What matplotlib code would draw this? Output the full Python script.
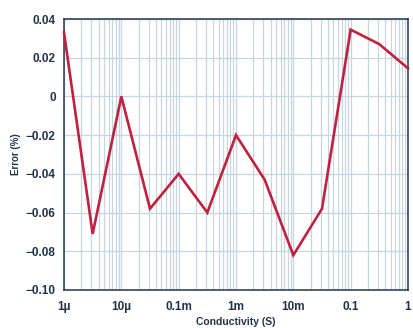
import matplotlib.pyplot as plt
import numpy as np
from matplotlib.ticker import FixedLocator, LogLocator, NullFormatter

plt.rcParams['font.family'] = ['Liberation Sans', 'DejaVu Sans']

# Conductivity sweep (S) and measured error (%)
conductivity = [1e-6, 3.16e-6, 1e-5, 3.16e-5, 1e-4, 3.16e-4, 1e-3,
                3.16e-3, 1e-2, 3.16e-2, 1e-1, 3.16e-1, 1.0]
error_pct = [0.033, -0.071, 0.0, -0.058, -0.040, -0.060, -0.020,
             -0.043, -0.082, -0.058, 0.0345, 0.027, 0.0145]

x_ticks = [1e-6, 1e-5, 1e-4, 1e-3, 1e-2, 1e-1, 1.0]
x_labels = ['1µ', '10µ', '0.1m', '1m', '10m', '0.1', '1']
y_ticks = [-0.10, -0.08, -0.06, -0.04, -0.02, 0, 0.02, 0.04]
y_labels = ['−0.10', '−0.08', '−0.06', '−0.04', '−0.02', '0', '0.02', '0.04']

navy = '#22344a'
grid_col = '#c6d5e0'

fig = plt.figure(figsize=(4.14, 3.28), dpi=100)
ax = fig.add_axes([64 / 414, 38 / 328, 344 / 414, 271 / 328])

ax.plot(conductivity, error_pct, color='#c0213f', linewidth=1.9,
        solid_joinstyle='miter', zorder=3, clip_on=False)

ax.set_xscale('log')
ax.set_xlim(1e-6, 1.0)
ax.set_ylim(-0.10, 0.04)

ax.xaxis.set_major_locator(FixedLocator(x_ticks))
ax.set_xticklabels(x_labels)
ax.xaxis.set_minor_locator(LogLocator(base=10, subs=np.arange(2, 10)))
ax.xaxis.set_minor_formatter(NullFormatter())
ax.set_yticks(y_ticks)
ax.set_yticklabels(y_labels)

ax.grid(True, which='both', axis='x', color=grid_col, linewidth=0.9)
ax.grid(True, which='major', axis='y', color=grid_col, linewidth=0.9)
ax.set_axisbelow(True)

ax.tick_params(which='both', length=0, colors=navy, labelsize=8.5)
ax.tick_params(axis='x', pad=8)
ax.tick_params(axis='y', pad=6)
for lab in ax.get_xticklabels() + ax.get_yticklabels():
    lab.set_fontweight('bold')

for sp in ax.spines.values():
    sp.set_color(navy)
    sp.set_linewidth(1.1)

ax.set_xlabel('Conductivity (S)', fontsize=7.5, fontweight='bold', color=navy, labelpad=3)
ax.set_ylabel('Error (%)', fontsize=7, fontweight='bold', color=navy, labelpad=3)

fig.savefig('out.png', dpi=100)
